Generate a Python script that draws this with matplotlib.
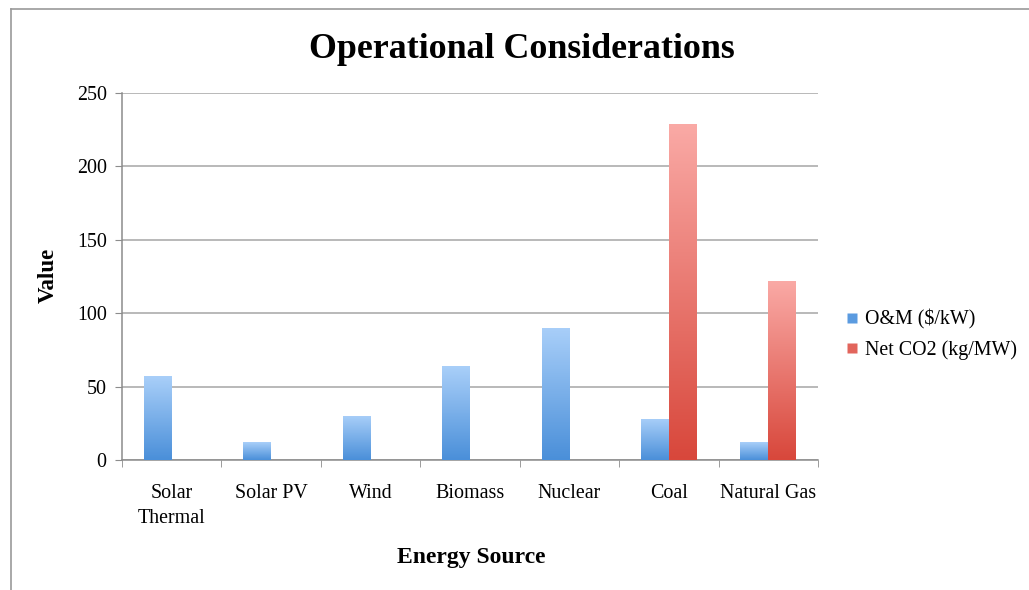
import numpy as np
import matplotlib.pyplot as plt
from matplotlib.colors import LinearSegmentedColormap
from matplotlib.lines import Line2D

categories = ['Solar\nThermal', 'Solar PV', 'Wind', 'Biomass', 'Nuclear', 'Coal', 'Natural Gas']
om_cost = [57, 12, 30, 64, 90, 28, 12]
net_co2 = [0, 0, 0, 0, 0, 229, 122]
series_names = ['O&M ($/kW)', 'Net CO2 (kg/MW)']

plt.rcParams['font.family'] = ['Liberation Serif', 'DejaVu Serif']

blue_cmap = LinearSegmentedColormap.from_list('b', ['#4a8fd9', '#a9cff9'])
red_cmap = LinearSegmentedColormap.from_list('r', ['#d8473b', '#faaaa6'])

fig = plt.figure(figsize=(10.29, 5.90), dpi=100)
ax = fig.add_axes([122/1029, 1-460/590, (818-122)/1029, (460-93)/590])

x = np.arange(len(categories))
w = 0.28
grad = np.linspace(0, 1, 256).reshape(-1, 1)


def gradient_bars(xs, vals, cmap):
    bars = ax.bar(xs, vals, w, color='none', edgecolor='none', zorder=3)
    for b in bars:
        h = b.get_height()
        if h <= 0:
            continue
        x0 = b.get_x()
        im = ax.imshow(grad, cmap=cmap, origin='lower', aspect='auto',
                       extent=[x0, x0 + b.get_width(), 0, h], zorder=3)
        im.set_clip_path(b)
    return bars


gradient_bars(x - w/2, om_cost, blue_cmap)
gradient_bars(x + w/2, net_co2, red_cmap)

ax.set_xlim(-0.5, len(categories) - 0.5)
ax.set_ylim(0, 250)
ax.set_yticks(range(0, 251, 50))
ax.yaxis.grid(True, color='#a6a6a6', linewidth=1.1)
ax.set_axisbelow(True)

ax.set_xticks(x)
ax.set_xticklabels(categories, fontsize=14.4, linespacing=1.45)
ax.set_xticks(np.arange(-0.5, len(categories), 1), minor=True)
ax.tick_params(axis='x', which='major', length=0, pad=17)
ax.tick_params(axis='x', which='minor', length=5, color='#8c8c8c', direction='out')
ax.tick_params(axis='y', length=5, color='#8c8c8c', labelsize=14.4, pad=6)

for s in ['top', 'right']:
    ax.spines[s].set_visible(False)
for s in ['left', 'bottom']:
    ax.spines[s].set_color('#8c8c8c')
    ax.spines[s].set_linewidth(1.1)

fig.text(522/1029, 1-50/590, 'Operational Considerations', ha='center', va='center',
         fontsize=25.8, fontweight='bold')
fig.text(471/1029, 1-557/590, 'Energy Source', ha='center', va='center',
         fontsize=17, fontweight='bold')
fig.text(48/1029, 1-275/590, 'Value', ha='center', va='center', rotation=90,
         fontsize=16.5, fontweight='bold')

handles = [Line2D([], [], marker='s', linestyle='none', markersize=6.5,
                  markerfacecolor='#5b9be0', markeredgecolor='none'),
           Line2D([], [], marker='s', linestyle='none', markersize=6.5,
                  markerfacecolor='#e2655c', markeredgecolor='none')]
fig.legend(handles, series_names, loc='center left', frameon=False,
           bbox_to_anchor=(828/1029, 1-335/590), fontsize=14.4,
           handlelength=0.6, handletextpad=0.35, labelspacing=0.55)

# chart frame (only top/left edges visible in the crop)
fig.add_artist(Line2D([11/1029, 11/1029], [0, 1-9/590], transform=fig.transFigure,
                      color='#9a9a9a', linewidth=1.2))
fig.add_artist(Line2D([11/1029, 1], [1-9/590, 1-9/590], transform=fig.transFigure,
                      color='#9a9a9a', linewidth=1.2))

fig.savefig('out.png', dpi=100)
